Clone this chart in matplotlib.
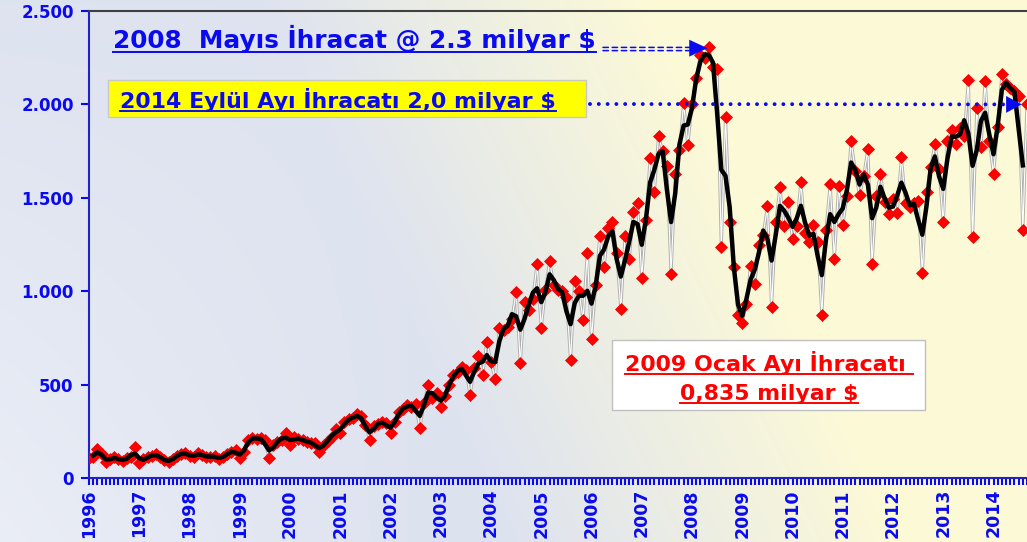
import numpy as np
import matplotlib
matplotlib.use('Agg')
import matplotlib.pyplot as plt
from matplotlib.ticker import FixedLocator, FuncFormatter
from matplotlib.lines import Line2D
from matplotlib.patches import Rectangle

# monthly exports (million $)
v1996 = [105, 110, 155, 130, 85, 100, 115, 100, 90, 105, 110, 165]
v1997 = [80, 100, 110, 120, 130, 110, 95, 85, 100, 120, 130, 135]
v1998 = [120, 110, 135, 125, 110, 115, 120, 100, 110, 130, 140, 150]
v1999 = [105, 140, 205, 215, 210, 212, 205, 105, 175, 195, 205, 240]
v2000 = [177, 220, 210, 204, 195, 188, 185, 140, 177, 200, 220, 263]
v2001 = [240, 300, 315, 320, 340, 330, 285, 205, 280, 290, 300, 295]
v2002 = [241, 300, 354, 370, 392, 380, 395, 268, 400, 500, 430, 456]
v2003 = [380, 440, 500, 552, 570, 595, 580, 445, 590, 655, 552, 730]
v2004 = [620, 530, 805, 790, 810, 850, 998, 617, 944, 900, 960, 1148]
v2005 = [805, 1008, 1159, 1035, 1008, 1000, 971, 633, 1057, 1000, 848, 1207]
v2006 = [746, 1035, 1298, 1127, 1341, 1368, 1207, 907, 1293, 1170, 1422, 1470]
v2007 = [1073, 1379, 1711, 1529, 1829, 1750, 1668, 1094, 1625, 1754, 2006, 1781]
v2008 = [2001, 2140, 2264, 2250, 2306, 2200, 2190, 1239, 1931, 1368, 1132, 874]
v2009 = [832, 933, 1137, 1041, 1245, 1300, 1454, 917, 1368, 1556, 1347, 1475]
v2010 = [1277, 1350, 1583, 1314, 1261, 1352, 1266, 874, 1330, 1572, 1175, 1561]
v2011 = [1352, 1508, 1803, 1642, 1513, 1615, 1760, 1148, 1508, 1626, 1475, 1411]
v2012 = [1491, 1420, 1717, 1470, 1450, 1470, 1481, 1100, 1529, 1663, 1786, 1652]
v2013 = [1368, 1803, 1862, 1786, 1872, 1829, 2130, 1288, 1980, 1770, 2124, 1803]
v2014 = [1626, 1878, 2162, 2108, 2087, 2070, 2044, 1325, 2000]

years = ['1996', '1997', '1998', '1999', '2000', '2001', '2002', '2003', '2004',
         '2005', '2006', '2007', '2008', '2009', '2010', '2011', '2012', '2013', '2014']

values = np.array(v1996 + v1997 + v1998 + v1999 + v2000 + v2001 + v2002 + v2003 +
                  v2004 + v2005 + v2006 + v2007 + v2008 + v2009 + v2010 + v2011 +
                  v2012 + v2013 + v2014, dtype=float)
idx = np.arange(len(values))
# smoothed trend (black line)
trend = 0.25 * values[:-2] + 0.5 * values[1:-1] + 0.25 * values[2:]

peak_i = int(np.argmax(values))          # 2008 May
last_i = len(values) - 1                 # 2014 Sep

W, H = 1027, 542
BLUE = '#0a0af0'
plt.rcParams['font.family'] = 'DejaVu Sans'
plt.rcParams['font.weight'] = 'bold'

fig = plt.figure(figsize=(W / 100, H / 100), dpi=100)

# background gradient
bg = fig.add_axes([0, 0, 1, 1], zorder=-10)
gx, gy = np.meshgrid(np.linspace(0, 1, 400), np.linspace(1, 0, 220))
t = np.clip((gx - 0.38 + 0.25 * (gy - 0.5)) / 0.38, 0, 1)[..., None]
c_blue = np.array([0.87, 0.89, 0.94])
c_yel = np.array([0.99, 0.98, 0.84])
img = c_blue * (1 - t) + c_yel * t
light = (np.clip(1 - gx * 2.5, 0, 1) * (1 - gy) * 0.6)[..., None]
img = img * (1 - light) + np.array([0.95, 0.96, 0.98]) * light
bg.imshow(img, aspect='auto', extent=[0, 1, 0, 1], interpolation='bilinear')
bg.axis('off')

ax = fig.add_axes([89 / W, (H - 478) / H, (W - 89) / W, (478 - 11) / H])
ax.set_facecolor('none')

ax.plot(idx, values, color='#b0b0b0', lw=2.2, zorder=2)
ax.plot(idx, values, color='white', lw=0.8, zorder=2.1)
ax.plot(idx, values, ls='none', marker='D', ms=6.5, mfc='#ff0000', mec='#ee0000', mew=0.5, zorder=3)
ax.plot(idx[1:-1], trend, color='black', lw=3.2, zorder=4, solid_joinstyle='round')

ax.set_xlim(0, last_i)
ax.set_ylim(0, 2500)

ax.yaxis.set_major_locator(FixedLocator(np.arange(0, 2501, 500)))
ax.yaxis.set_major_formatter(FuncFormatter(lambda v, p: f'{int(v):,}'.replace(',', '.')))
ax.xaxis.set_major_locator(FixedLocator(np.arange(0, len(values), 12)))
ax.xaxis.set_minor_locator(FixedLocator(idx))
ax.set_xticklabels(years)

ax.tick_params(axis='y', direction='out', length=6, width=1.5, color=BLUE,
               labelcolor=BLUE, labelsize=12, pad=5)
ax.tick_params(axis='x', which='both', direction='out', length=5, width=1.5, color=BLUE,
               labelcolor=BLUE, labelsize=12.5, pad=3, labelrotation=90)

for s in ['left', 'bottom']:
    ax.spines[s].set_color('#2222cc')
    ax.spines[s].set_linewidth(1.5)
ax.spines['top'].set_color('#404040')
ax.spines['top'].set_linewidth(1.5)
ax.spines['right'].set_visible(False)

renderer = fig.canvas.get_renderer()


def fit_text(x_px, y_px, s, width_px, color):
    txt = fig.text(x_px / W, 1 - y_px / H, s, color=color, fontsize=14,
                   fontweight='bold', va='baseline', zorder=6)
    w = txt.get_window_extent(renderer).width
    txt.set_fontsize(14 * width_px / w)
    return txt


def underline(txt, y_px, color, extra=0):
    bb = txt.get_window_extent(renderer)
    fig.add_artist(Line2D([bb.x0 / W, (bb.x1 + extra) / W], [1 - y_px / H] * 2,
                          color=color, lw=1.4, transform=fig.transFigure, zorder=6))


# boxes
fig.add_artist(Rectangle((108 / W, 1 - 117 / H), (586 - 108) / W, 37 / H,
                         transform=fig.transFigure, facecolor='#ffff00',
                         edgecolor='#c8c8c8', lw=1, zorder=5))
fig.add_artist(Rectangle((612 / W, 1 - 410 / H), (925 - 612) / W, 70 / H,
                         transform=fig.transFigure, facecolor='white',
                         edgecolor='#c0c0c0', lw=1, zorder=5))

t1 = fit_text(113, 48, '2008  Mayıs İhracat @ 2.3 milyar $', 482, BLUE)
t2 = fit_text(120, 108, '2014 Eylül Ayı İhracatı 2,0 milyar $', 435, BLUE)
t3 = fit_text(625, 371, '2009 Ocak Ayı İhracatı', 280, '#ff0000')
t4 = fit_text(680, 400, '0,835 milyar $', 178, '#ff0000')
underline(t1, 52, BLUE)
underline(t2, 111, BLUE)
underline(t3, 374, '#ff0000', extra=7)
underline(t4, 403, '#ff0000')

# 2008 arrow: double dashed line + head
for dy in (-1.6, 1.6):
    ax.annotate('', xy=(697, H - 49 + dy), xycoords='figure pixels',
                xytext=(603, H - 49 + dy), textcoords='figure pixels',
                arrowprops=dict(arrowstyle='-', color=BLUE, lw=1.1,
                                linestyle=(0, (3.5, 2.5)), shrinkA=0, shrinkB=0))
ax.annotate('', xy=(peak_i - 0.3, values[peak_i] - 5), xytext=(-13, 0),
            textcoords='offset points',
            arrowprops=dict(arrowstyle='-|>,head_length=0.65,head_width=0.3',
                            mutation_scale=20, color=BLUE, lw=0.1,
                            shrinkA=0, shrinkB=0), zorder=5)

# 2014 arrow: dotted line + head
ax.annotate('', xy=(last_i - 2.2 - 3.3, values[last_i]), xytext=(590, H - 104),
            textcoords='figure pixels',
            arrowprops=dict(arrowstyle='-', color=BLUE, lw=2.8,
                            linestyle=(0, (0.01, 2.25)), capstyle='round',
                            shrinkA=0, shrinkB=0), zorder=5)
ax.annotate('', xy=(last_i - 1.3, values[last_i]), xytext=(-11, 0),
            textcoords='offset points',
            arrowprops=dict(arrowstyle='-|>,head_length=0.55,head_width=0.3',
                            mutation_scale=20, color=BLUE, lw=0.1,
                            shrinkA=0, shrinkB=0), zorder=5)

fig.savefig('out.png', dpi=100)
